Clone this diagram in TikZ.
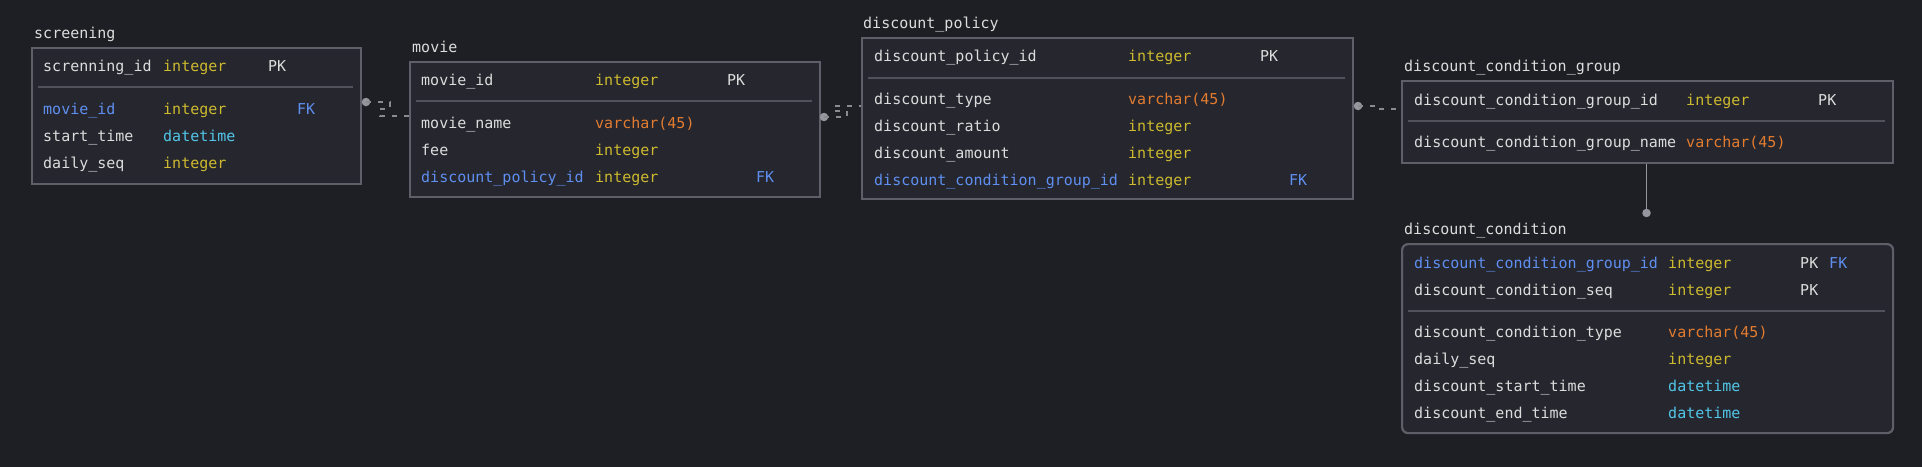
\documentclass[tikz,border=0pt]{standalone}
\usepackage{fontspec}
\setmonofont{DejaVu Sans Mono}
\definecolor{bg}{HTML}{1E1F24}
\definecolor{boxfill}{HTML}{25262E}
\definecolor{border}{HTML}{5E5F68}
\definecolor{sepc}{HTML}{50515A}
\definecolor{txt}{HTML}{DCDCDC}
\definecolor{tyint}{HTML}{CDBA2F}
\definecolor{tyvar}{HTML}{E27C30}
\definecolor{tydt}{HTML}{52C6E8}
\definecolor{fk}{HTML}{5F8FF0}
\definecolor{dotc}{HTML}{96969E}
\definecolor{relc}{HTML}{8A8A92}
\tikzset{
  tbl/.style={draw=border, fill=boxfill, line width=2.2pt, anchor=north west, inner sep=0pt, rectangle},
  lbl/.style={anchor=mid west, inner sep=0pt, text=txt},
  tint/.style={lbl, text=tyint},
  tvar/.style={lbl, text=tyvar},
  tdt/.style={lbl, text=tydt},
  tfk/.style={lbl, text=fk},
  sepline/.style={draw=sepc, line width=1.4pt},
  rel/.style={draw=relc, line width=1.3pt, dash pattern=on 5pt off 7pt},
  dotn/.style={circle, fill=dotc, inner sep=0pt, minimum size=8.5pt}
}
\begin{document}
\begin{tikzpicture}[x=1pt,y=-1pt, font=\ttfamily\fontsize{15}{17}\selectfont]
\useasboundingbox (0,0) rectangle (1922,466);
\fill[bg] (-6,-6) rectangle (1928,472);

% ---------- screening ----------
\node[tbl, minimum width=329pt, minimum height=136pt] (scr) at (31,47) {};
\node[lbl] (scrT) at (34,36) {screening};
\node[lbl] (s1n) at (43,69) {screnning\_id};
\node[tint] (s1t) at (163,69) {integer};
\node[lbl] (s1k) at (268,69) {PK};
\draw[sepline] (38,87) -- (353,87);
\node[tfk] (s2n) at (43,112) {movie\_id};
\node[tint] (s2t) at (163,112) {integer};
\node[tfk] (s2k) at (297,112) {FK};
\node[lbl] (s3n) at (43,139) {start\_time};
\node[tdt] (s3t) at (163,139) {datetime};
\node[lbl] (s4n) at (43,166) {daily\_seq};
\node[tint] (s4t) at (163,166) {integer};

% ---------- movie ----------
\node[tbl, minimum width=410pt, minimum height=135pt] (mov) at (409,61) {};
\node[lbl] (movT) at (412,50) {movie};
\node[lbl] (m1n) at (421,83) {movie\_id};
\node[tint] (m1t) at (595,83) {integer};
\node[lbl] (m1k) at (727,83) {PK};
\draw[sepline] (416,101) -- (812,101);
\node[lbl] (m2n) at (421,126) {movie\_name};
\node[tvar] (m2t) at (595,126) {varchar(45)};
\node[lbl] (m3n) at (421,153) {fee};
\node[tint] (m3t) at (595,153) {integer};
\node[tfk] (m4n) at (421,180) {discount\_policy\_id};
\node[tint] (m4t) at (595,180) {integer};
\node[tfk] (m4k) at (756,180) {FK};

% ---------- discount_policy ----------
\node[tbl, minimum width=491pt, minimum height=161pt] (pol) at (861,37) {};
\node[lbl] (polT) at (863,26) {discount\_policy};
\node[lbl] (p1n) at (874,59) {discount\_policy\_id};
\node[tint] (p1t) at (1128,59) {integer};
\node[lbl] (p1k) at (1260,59) {PK};
\draw[sepline] (868,78) -- (1345,78);
\node[lbl] (p2n) at (874,102) {discount\_type};
\node[tvar] (p2t) at (1128,102) {varchar(45)};
\node[lbl] (p3n) at (874,129) {discount\_ratio};
\node[tint] (p3t) at (1128,129) {integer};
\node[lbl] (p4n) at (874,156) {discount\_amount};
\node[tint] (p4t) at (1128,156) {integer};
\node[tfk] (p5n) at (874,183) {discount\_condition\_group\_id};
\node[tint] (p5t) at (1128,183) {integer};
\node[tfk] (p5k) at (1289,183) {FK};

% ---------- discount_condition_group ----------
\node[tbl, minimum width=491pt, minimum height=82pt] (grp) at (1401,80) {};
\node[lbl] (grpT) at (1404,69) {discount\_condition\_group};
\node[lbl] (g1n) at (1414,103) {discount\_condition\_group\_id};
\node[tint] (g1t) at (1686,103) {integer};
\node[lbl] (g1k) at (1818,103) {PK};
\draw[sepline] (1408,121) -- (1885,121);
\node[lbl] (g2n) at (1414,145) {discount\_condition\_group\_name};
\node[tvar] (g2t) at (1686,145) {varchar(45)};

% ---------- discount_condition ----------
\node[tbl, rounded corners=6pt, minimum width=491pt, minimum height=189pt] (cnd) at (1401,243) {};
\node[lbl] (cndT) at (1404,232) {discount\_condition};
\node[tfk] (c1n) at (1414,266) {discount\_condition\_group\_id};
\node[tint] (c1t) at (1668,266) {integer};
\node[lbl] (c1k) at (1800,266) {PK};
\node[tfk] (c1f) at (1829,266) {FK};
\node[lbl] (c2n) at (1414,293) {discount\_condition\_seq};
\node[tint] (c2t) at (1668,293) {integer};
\node[lbl] (c2k) at (1800,293) {PK};
\draw[sepline] (1408,311) -- (1885,311);
\node[lbl] (c3n) at (1414,335) {discount\_condition\_type};
\node[tvar] (c3t) at (1668,335) {varchar(45)};
\node[lbl] (c4n) at (1414,362) {daily\_seq};
\node[tint] (c4t) at (1668,362) {integer};
\node[lbl] (c5n) at (1414,389) {discount\_start\_time};
\node[tdt] (c5t) at (1668,389) {datetime};
\node[lbl] (c6n) at (1414,416) {discount\_end\_time};
\node[tdt] (c6t) at (1668,416) {datetime};

% ---------- relationships ----------
\node[dotn] (d1) at (366,102) {};
\draw[rel] (d1.center) -- (390,102) -- (390,109) -- (380,109) -- (380,116) -- (mov.west |- 0,116);
\node[dotn] (d2) at (824,117) {};
\draw[rel] (d2.center) -- (847,117) -- (847,111) -- (834,111) -- (834,106) -- (pol.west |- 0,106);
\node[dotn] (d3) at (1358,106) {};
\draw[rel] (d3.center) -- (1377,106) -- (1377,109) -- (grp.west |- 0,109);
\node[dotn] (d4) at (1646.5,213) {};
\draw[draw=dotc, line width=1.6pt] (grp.south -| d4) -- (d4.center);
\end{tikzpicture}
\end{document}
